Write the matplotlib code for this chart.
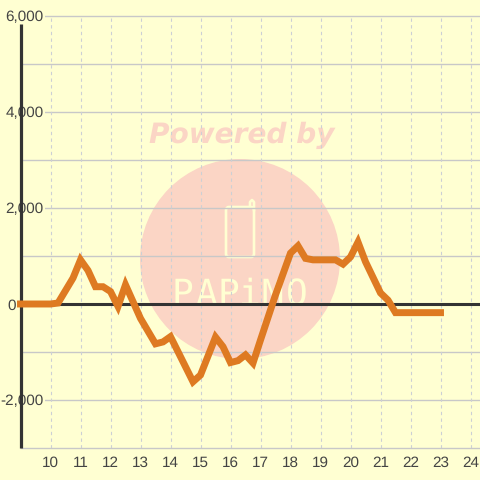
import matplotlib
matplotlib.use("Agg")
import matplotlib.pyplot as plt
from matplotlib.patches import Circle, FancyBboxPatch
from matplotlib.lines import Line2D
from matplotlib.transforms import IdentityTransform

plt.rcParams['font.family'] = ['Liberation Sans', 'DejaVu Sans']
plt.rcParams['text.hinting'] = 'none'

hours = [9, 9.5, 10, 10.25, 10.5, 10.75, 11, 11.25, 11.5, 11.75, 12, 12.25, 12.5,
         13, 13.5, 13.75, 14, 14.75, 15, 15.5, 15.75, 16, 16.25, 16.5, 16.75,
         17, 17.5, 18, 18.25, 18.5, 18.75, 19.5, 19.75, 20, 20.25, 20.5,
         21, 21.25, 21.5, 22, 22.5, 23]
values = [0, 0, 0, 20, 280, 540, 920, 700, 360, 360, 260, -50, 400,
          -300, -830, -790, -680, -1620, -1480, -690, -890, -1220, -1180, -1060, -1230,
          -750, 190, 1060, 1210, 950, 920, 920, 830, 980, 1290, 880,
          230, 80, -180, -180, -180, -180]
x_ticks = list(range(10, 25))
y_major = [-2000, 0, 2000, 4000, 6000]
y_minor = [-3000, -1000, 1000, 3000, 5000]
y_labels = ['-2,000', '0', '2,000', '4,000', '6,000']

BG = '#FFFFD2'
DARK = '#333333'
GRID = '#C8C8C8'
PINK = '#FBD5C5'

fig = plt.figure(figsize=(4.8, 4.8), dpi=100, facecolor=BG)
ax = fig.add_axes([20.5 / 480, 32 / 480, 459.5 / 480, 432 / 480], facecolor=BG)
ax.set_xlim(9, 9 + 459.5 / 30)
ax.set_ylim(-3000, 6000)

for s in ax.spines.values():
    s.set_visible(False)

# watermark, placed in pixels from the top left
pixels = IdentityTransform()
def flip(y):
    return 480 - y

ax.add_patch(Circle((240, flip(259)), 100, transform=pixels, fc=PINK, ec='none', zorder=0.5))
ax.add_patch(FancyBboxPatch((226, flip(257)), 28, 50, boxstyle='round,pad=0,rounding_size=3',
                            transform=pixels, fc='none', ec=BG, lw=1.9, zorder=0.6))
ax.add_line(Line2D([250, 250, 252, 254, 254], [flip(207), flip(202), flip(200), flip(202), flip(210)],
                   transform=pixels, color=BG, lw=1.9, zorder=0.6))
ax.text(242, flip(135), 'Powered by', transform=pixels, color=PINK, fontsize=20.2, fontweight='bold',
        style='italic', family='DejaVu Sans', ha='center', va='center', zorder=0.6)
for letter, cx in zip('PAPiMO', [182, 206, 228, 250, 272, 297]):
    ax.text(cx, flip(305), letter, transform=pixels, color=BG, fontsize=26, family='DejaVu Sans Mono',
            ha='center', va='baseline', zorder=0.6)

for v in y_major + y_minor:
    ax.axhline(v, color=GRID, lw=1.0, zorder=1, clip_on=False)
for t in x_ticks:
    ax.axvline(t, color='#CDD0D4', lw=0.8, ls=(0, (3, 3)), zorder=1)

ax.axhline(0, color=DARK, lw=2.2, zorder=2)
ax.plot([9, 9], [-3000, 5830], color=DARK, lw=2.3, zorder=2, solid_capstyle='butt', clip_on=False)
ax.plot(hours, values, color='#DE7A22', lw=5, zorder=3, solid_joinstyle='miter',
        solid_capstyle='projecting', clip_on=False)

ax.set_xticks(x_ticks)
ax.set_yticks(y_major)
ax.set_yticklabels(y_labels)
ax.tick_params(length=0, colors='#444444', labelsize=11)
ax.tick_params(axis='x', pad=6)
ax.tick_params(axis='y', pad=-16.5)
for lab in ax.get_yticklabels():
    lab.set_bbox(dict(fc=BG, ec='none', pad=1))
    lab.set_zorder(5)
# the zero label sits left of the axis line
ax.yaxis.get_major_ticks()[1].set_pad(3)
ax.yaxis.get_major_ticks()[1].label1.set_bbox(None)

fig.savefig('out.png', dpi=100, facecolor=BG)
